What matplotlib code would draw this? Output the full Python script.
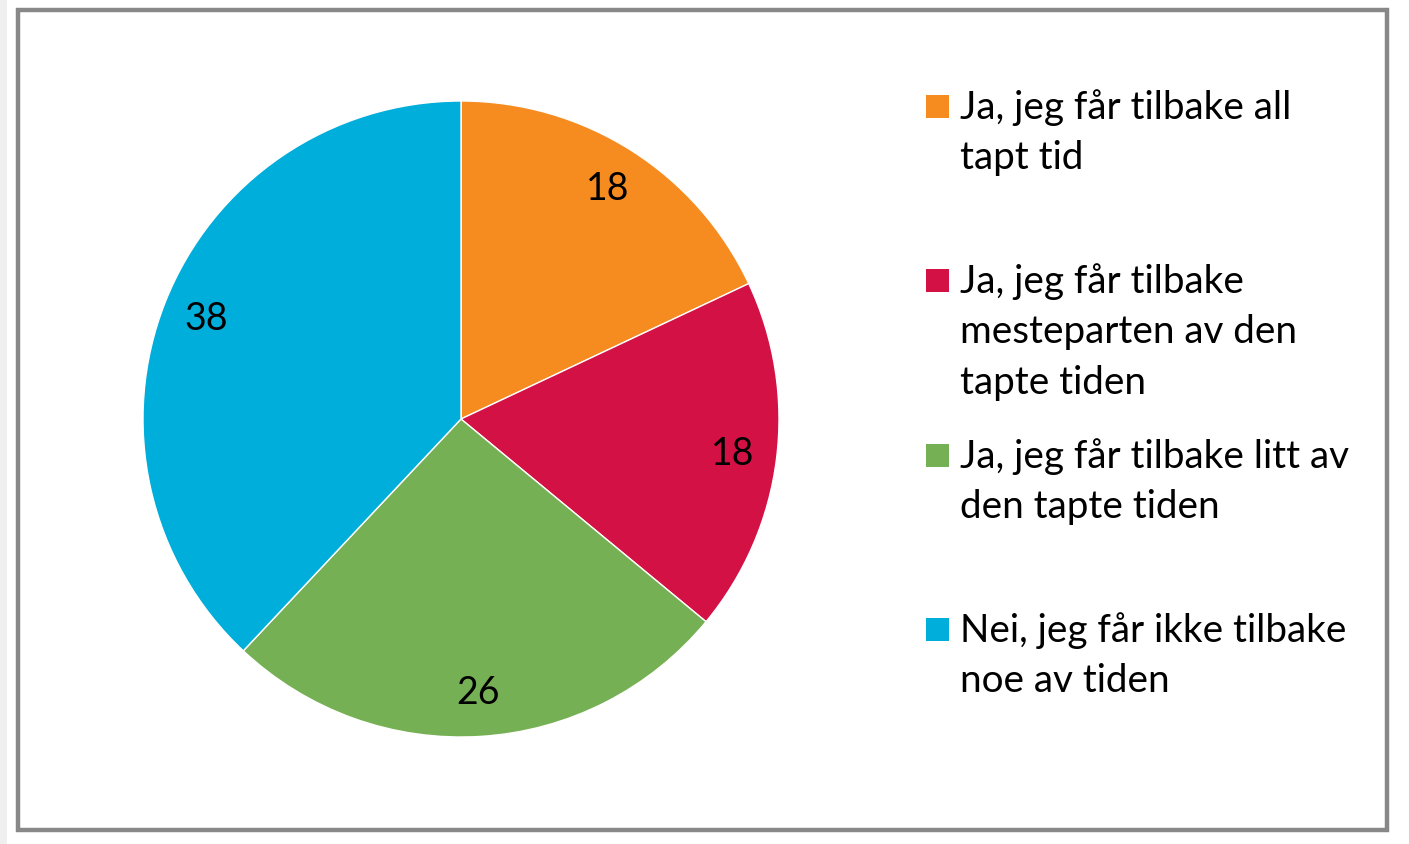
import matplotlib.pyplot as plt
from matplotlib.patches import Rectangle

# data
labels = ['Ja, jeg får tilbake all\ntapt tid',
          'Ja, jeg får tilbake\nmesteparten av den\ntapte tiden',
          'Ja, jeg får tilbake litt av\nden tapte tiden',
          'Nei, jeg får ikke tilbake\nnoe av tiden']
values = [18, 18, 26, 38]
colors = ['#F68B1F', '#D31145', '#76B054', '#00AEDB']

plt.rcParams['font.family'] = ['Lato', 'DejaVu Sans']

W, H = 1409, 845
fig = plt.figure(figsize=(W / 100, H / 100), dpi=100)
fig.patch.set_facecolor('white')

# light strip on the left and grey frame
fig.add_artist(Rectangle((0, 0), 7 / W, 1, transform=fig.transFigure,
                         facecolor='#efefef', edgecolor='none'))
fig.add_artist(Rectangle((18 / W, (H - 831) / H), (1387 - 18) / W, (831 - 11) / H,
                         transform=fig.transFigure, facecolor='none',
                         edgecolor='#888888', linewidth=3.2))

# pie axes: center (461, 420), radius 318 px
cx, cy, r = 461, 420, 318
ax = fig.add_axes([(cx - r) / W, (H - cy - r) / H, 2 * r / W, 2 * r / H])
wedges, texts = ax.pie(values, colors=colors, startangle=90, counterclock=False,
                       labels=[str(v) for v in values], labeldistance=0.86,
                       wedgeprops=dict(edgecolor='white', linewidth=1),
                       textprops=dict(fontsize=27, color='black'))
for t in texts:
    t.set_ha('center')
    t.set_va('center')
ax.set_xlim(-1, 1)
ax.set_ylim(-1, 1)
ax.set_aspect('equal')
ax.axis('off')

# legend, drawn by hand
first_line_y = [107, 281, 456, 630]
for lab, col, y in zip(labels, colors, first_line_y):
    fig.add_artist(Rectangle((926 / W, (H - y - 12) / H), 23 / W, 23 / H,
                             transform=fig.transFigure, facecolor=col,
                             edgecolor='none'))
    fig.text(960 / W, (H - y + 18) / H, lab, fontsize=27.8, va='top', ha='left',
             linespacing=1.5)

fig.savefig('out.png', dpi=100)
